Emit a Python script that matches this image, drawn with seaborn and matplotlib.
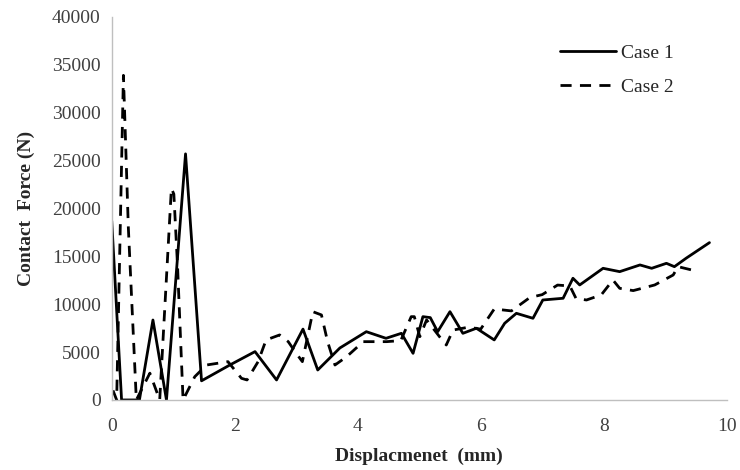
import numpy as np
import pandas as pd
import seaborn as sns
import matplotlib.pyplot as plt

# values
x_case1 = [0.0, 0.16, 0.45, 0.67, 0.89, 1.20, 1.46, 1.92, 2.33, 2.68, 3.11, 3.35,
           3.71, 4.14, 4.46, 4.71, 4.90, 5.06, 5.18, 5.30, 5.50, 5.71, 5.93, 6.22,
           6.39, 6.58, 6.85, 7.01, 7.34, 7.50, 7.61, 7.99, 8.26, 8.59, 8.78, 9.02,
           9.15, 9.34, 9.72]
y_case1 = [18700, 0, 0, 8350, 0, 25700, 2000, 3650, 5050, 2090, 7400, 3130,
           5430, 7130, 6440, 6960, 4870, 8700, 8600, 7130, 9220, 6960, 7490, 6270,
           8010, 9050, 8530, 10440, 10620, 12710, 12010, 13750, 13400, 14100, 13750, 14270,
           13920, 14800, 16430]

x_case2 = [0.02, 0.08, 0.19, 0.27, 0.40, 0.62, 0.78, 0.97, 1.01, 1.07, 1.16, 1.35,
           1.54, 1.89, 2.11, 2.20, 2.38, 2.51, 2.73, 2.87, 3.00, 3.10, 3.27, 3.41,
           3.51, 3.63, 3.82, 4.09, 4.47, 4.70, 4.87, 4.92, 5.01, 5.12, 5.33, 5.44,
           5.55, 5.80, 6.00, 6.22, 6.50, 6.80, 7.00, 7.25, 7.45, 7.55, 7.72, 7.96,
           8.15, 8.26, 8.48, 8.83, 9.13, 9.21, 9.48]
y_case2 = [1000, 0, 33900, 18000, 0, 2800, 0, 22100, 21500, 14000, 0, 2430,
           3650, 4000, 2260, 2090, 4000, 6270, 6790, 6090, 4870, 4000, 9220, 8880,
           6090, 3650, 4520, 6090, 6090, 6200, 8700, 8700, 6610, 8360, 6610, 5740,
           7300, 7600, 7400, 9500, 9300, 10700, 11000, 12000, 11900, 10600, 10440, 10970,
           12530, 11660, 11420, 12010, 13050, 13920, 13500]

case_names = ["Case 1", "Case 2"]

df = pd.concat([
    pd.DataFrame({"x": x_case1, "y": y_case1, "case": case_names[0]}),
    pd.DataFrame({"x": x_case2, "y": y_case2, "case": case_names[1]}),
])

sns.set_style("white")
plt.rcParams['font.family'] = ['Liberation Serif', 'DejaVu Serif']

fig = plt.figure(figsize=(7.4, 4.7), dpi=100)
ax = fig.add_axes([0.151, 0.149, 0.831, 0.815])

sns.lineplot(data=df, x="x", y="y", hue="case", style="case",
             palette={"Case 1": "black", "Case 2": "black"},
             dashes={"Case 1": "", "Case 2": (4, 3)},
             estimator=None, sort=False, linewidth=2, ax=ax)

ax.set_xlim(0, 10)
ax.set_ylim(0, 40000)
ax.set_xticks(np.arange(0, 11, 2))
ax.set_yticks(np.arange(0, 40001, 5000))
ax.tick_params(axis="both", length=0, labelsize=14, labelcolor="#404040")
ax.tick_params(axis="x", pad=13)
ax.tick_params(axis="y", pad=8)

for side in ["top", "right"]:
    ax.spines[side].set_visible(False)
for side in ["left", "bottom"]:
    ax.spines[side].set_color("#bfbfbf")
    ax.spines[side].set_linewidth(1)

ax.set_xlabel("Displacmenet  (mm)", fontsize=14, fontweight="bold", labelpad=9)
ax.set_ylabel("Contact  Force (N)", fontsize=14, fontweight="bold", labelpad=12)

leg = ax.legend(loc="upper left", bbox_to_anchor=(0.7, 0.975), frameon=False,
                fontsize=14, handlelength=2.9, labelspacing=0.85, handletextpad=0.25)
for line in leg.get_lines():
    line.set_linewidth(2)

fig.savefig("out.png", dpi=100)
